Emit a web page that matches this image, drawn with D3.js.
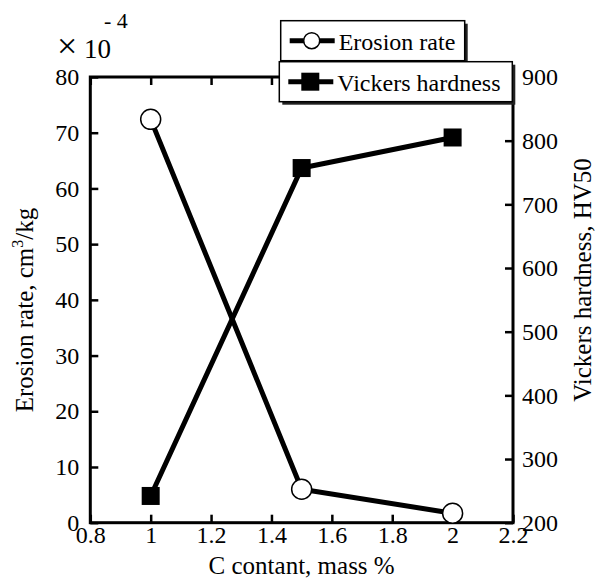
<!DOCTYPE html>
<html>
<head>
<meta charset="utf-8">
<script src="https://cdn.jsdelivr.net/npm/d3@7"></script>
<style>
  body { margin: 0; background: #fff; }
  svg { display: block; }
  svg text { font-family: "Liberation Serif", "Times New Roman", Times, serif; fill: #000; }
</style>
</head>
<body>
<div id="chart"></div>
<script>
// values
var carbon = [1, 1.5, 2];
var erosionRate = [72.4, 6.0, 1.7];      // x 10^-4 cm3/kg
var hardness = [242, 757, 805];          // HV50
var xTicks = [0.8, 1, 1.2, 1.4, 1.6, 1.8, 2, 2.2];
var leftTicks = [0, 10, 20, 30, 40, 50, 60, 70, 80];
var rightTicks = [200, 300, 400, 500, 600, 700, 800, 900];

var W = 601, H = 578;
var margin = {top: 77, right: 88, bottom: 55.3, left: 90.3},
    width = W - margin.left - margin.right,
    height = H - margin.top - margin.bottom;

var svg = d3.select("#chart").append("svg")
    .attr("width", W)
    .attr("height", H);

var g = svg.append("g")
    .attr("transform", "translate(" + margin.left + "," + margin.top + ")");

var x = d3.scaleLinear().domain([0.8, 2.2]).range([0, width]);
var yL = d3.scaleLinear().domain([0, 80]).range([height, 0]);
var yR = d3.scaleLinear().domain([200, 900]).range([height, 0]);

var fmt = function(d) { return String(+d.toFixed(1)); };

// axes, ticks pointing inward
var axisStyle = function(sel) {
  sel.attr("font-family", null).attr("font-size", null);
  sel.select(".domain").remove();
  sel.selectAll(".tick line").attr("stroke", "#000").attr("stroke-width", 2.5);
  sel.selectAll(".tick text").style("font-size", "24px");
};

g.append("g")
  .attr("transform", "translate(0," + height + ")")
  .call(d3.axisBottom(x).tickValues(xTicks).tickFormat(fmt).tickSizeInner(-8).tickSizeOuter(0).tickPadding(3))
  .call(axisStyle);

g.append("g")
  .call(d3.axisTop(x).tickValues(xTicks).tickFormat("").tickSizeInner(-8).tickSizeOuter(0))
  .call(axisStyle);

g.append("g")
  .call(d3.axisLeft(yL).tickValues(leftTicks).tickSizeInner(-8).tickSizeOuter(0).tickPadding(11))
  .call(axisStyle);

g.append("g")
  .attr("transform", "translate(" + width + ",0)")
  .call(d3.axisRight(yR).tickValues(rightTicks).tickSizeInner(-8).tickSizeOuter(0).tickPadding(9))
  .call(axisStyle);

// frame
g.append("rect")
  .attr("width", width).attr("height", height)
  .attr("fill", "none").attr("stroke", "#000").attr("stroke-width", 3);

// series
var erosionPts = carbon.map(function(c, i) { return [x(c), yL(erosionRate[i])]; });
var hardPts = carbon.map(function(c, i) { return [x(c), yR(hardness[i])]; });

g.append("path")
  .attr("d", d3.line()(erosionPts))
  .attr("fill", "none").attr("stroke", "#000").attr("stroke-width", 5);

g.append("path")
  .attr("d", d3.line()(hardPts))
  .attr("fill", "none").attr("stroke", "#000").attr("stroke-width", 5);

g.selectAll(".circ").data(erosionPts).enter().append("circle")
  .attr("cx", function(d) { return d[0]; })
  .attr("cy", function(d) { return d[1]; })
  .attr("r", 10)
  .attr("fill", "#fff").attr("stroke", "#000").attr("stroke-width", 1.5);

g.selectAll(".sq").data(hardPts).enter().append("rect")
  .attr("x", function(d) { return d[0] - 9; })
  .attr("y", function(d) { return d[1] - 9; })
  .attr("width", 18).attr("height", 18)
  .attr("fill", "#000");

// axis titles
svg.append("text")
  .attr("x", margin.left + width / 2)
  .attr("y", 574)
  .attr("text-anchor", "middle")
  .style("font-size", "25px")
  .text("C contant, mass %");

var lt = svg.append("text")
  .attr("transform", "translate(33,310) rotate(-90)")
  .attr("text-anchor", "middle")
  .style("font-size", "25px");
lt.append("tspan").text("Erosion rate, cm");
lt.append("tspan").attr("dy", -10).style("font-size", "16px").text("3");
lt.append("tspan").attr("dy", 10).text("/kg");

svg.append("text")
  .attr("transform", "translate(591,280) rotate(-90)")
  .attr("text-anchor", "middle")
  .style("font-size", "25px")
  .text("Vickers hardness, HV50");

// exponent label
svg.append("text")
  .attr("x", 57).attr("y", 58)
  .style("font-size", "36px")
  .text("\u00d7");
svg.append("text")
  .attr("x", 84).attr("y", 58)
  .style("font-size", "27px")
  .text("10");
svg.append("text")
  .attr("x", 104).attr("y", 28)
  .style("font-size", "22px")
  .text("- 4");

// legend: two boxes with drop shadows
function legendBox(x0, y0, w, h, label, marker) {
  var lg = svg.append("g").attr("transform", "translate(" + x0 + "," + y0 + ")");
  lg.append("rect").attr("x", 3).attr("y", 3).attr("width", w).attr("height", h).attr("fill", "#222");
  lg.append("rect").attr("width", w).attr("height", h)
    .attr("fill", "#fff").attr("stroke", "#000").attr("stroke-width", 1.5);
  lg.append("line").attr("x1", 9).attr("x2", 54).attr("y1", h / 2).attr("y2", h / 2)
    .attr("stroke", "#000").attr("stroke-width", 5);
  if (marker === "circle") {
    lg.append("circle").attr("cx", 31).attr("cy", h / 2).attr("r", 8)
      .attr("fill", "#fff").attr("stroke", "#000").attr("stroke-width", 1.5);
  } else {
    lg.append("rect").attr("x", 22).attr("y", h / 2 - 9).attr("width", 18).attr("height", 18).attr("fill", "#000");
  }
  lg.append("text").attr("x", 58).attr("y", h / 2 + 9)
    .style("font-size", "24px").text(label);
}
legendBox(280.7, 20.7, 184, 40, "Erosion rate", "circle");
legendBox(279.3, 61.7, 233, 40, "Vickers hardness", "square");
</script>
</body>
</html>
